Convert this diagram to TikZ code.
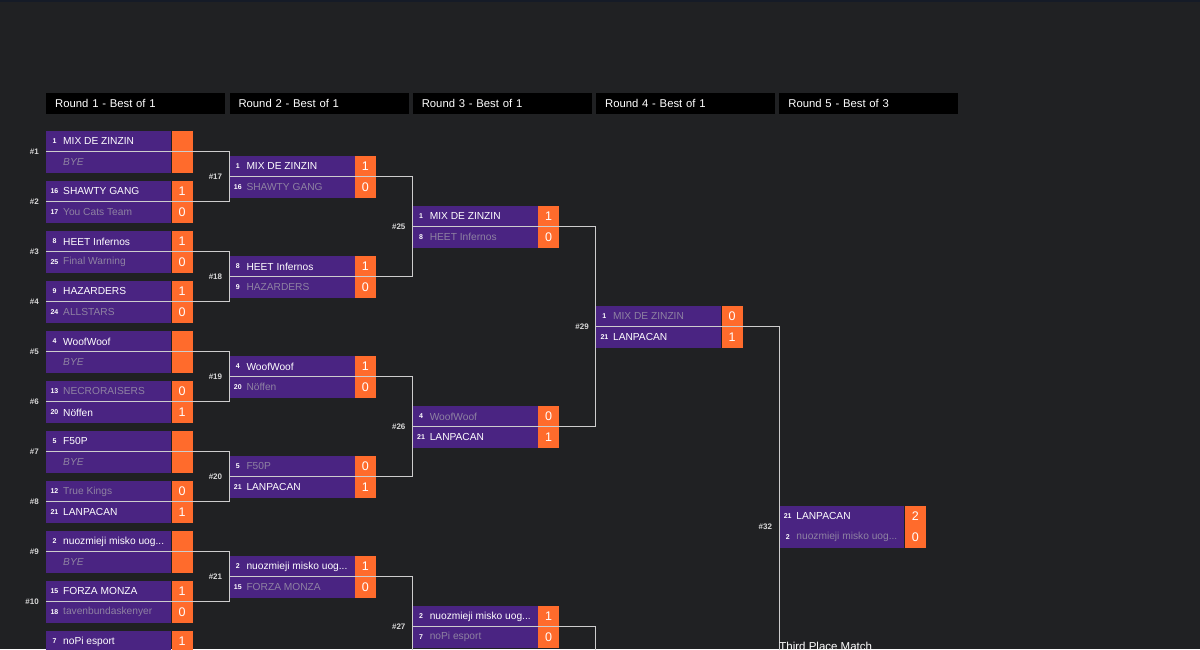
\documentclass[tikz,border=0pt]{standalone}
\usepackage{fontspec}
\setmainfont{Liberation Sans}
\usepackage{tikz}
\usetikzlibrary{positioning}
\definecolor{bgdark}{RGB}{32,33,35}
\definecolor{topbar}{RGB}{21,27,39}
\definecolor{teampurple}{RGB}{74,36,130}
\definecolor{scoreorange}{RGB}{255,107,44}
\definecolor{losegray}{RGB}{142,130,162}
\definecolor{linegray}{RGB}{205,205,205}

\newcommand{\lost}[1]{\textcolor{losegray}{#1}}
\newcommand{\byeslot}{\textcolor{losegray}{\itshape BYE}}

% one team line: name, placement, seed, team, score
\newcommand{\teamrow}[5]{%
  \node[teambox, #2] (#1) {};
  \node[scorebox, right=0pt of #1] (#1s) {#5};
  \node[seednum] (#1n) at ([xshift=8.5pt]#1.west) {#3};
  \node[teamname] (#1t) at ([xshift=17pt]#1.west) {#4};
}
% one match: name, top left, number, top team, bottom team
\newcommand{\bmatch}[9]{%
  \teamrow{#1a}{anchor=north west, at={(#2)}}{#4}{#5}{#6}
  \teamrow{#1b}{below=0pt of #1a}{#7}{#8}{#9}
  \coordinate (#1w) at (#1a.south west);
  \node[matchno] (#1l) at ([xshift=-7pt]#1w) {#3};
}

\begin{document}
\begin{tikzpicture}[x=1pt, y=-1pt,
  teambox/.style={fill=teampurple, minimum width=125pt, minimum height=20.5pt, inner sep=0pt},
  scorebox/.style={fill=scoreorange, minimum width=21pt, minimum height=20.5pt, inner sep=0pt, text=white, font=\fontsize{12.5}{14}\selectfont},
  seednum/.style={inner sep=0pt, text=white, font=\bfseries\fontsize{7}{8}\selectfont},
  teamname/.style={anchor=west, inner sep=0pt, text=white, font=\fontsize{10.2}{12}\selectfont},
  matchno/.style={anchor=east, inner sep=0pt, text=white!85!black, font=\bfseries\fontsize{8}{10}\selectfont},
  roundhead/.style={anchor=north west, fill=black, text=white, minimum height=21pt, inner ysep=0pt, inner xsep=9pt, text width=161pt, align=left, font=\fontsize{11.3}{13}\selectfont},
  link/.style={linegray, line width=1pt}]
  \useasboundingbox (0,0) rectangle (1200,649);
  \clip (0,0) rectangle (1200,649);
  \fill[bgdark] (0,0) rectangle (1200,649);
  \fill[topbar] (0,0) rectangle (1200,2);

  % Round headers
  \node[roundhead] (r1) at (46,93) {Round 1 - Best of 1};
  \node[roundhead] (r2) at (229.3,93) {Round 2 - Best of 1};
  \node[roundhead] (r3) at (412.6,93) {Round 3 - Best of 1};
  \node[roundhead] (r4) at (595.9,93) {Round 4 - Best of 1};
  \node[roundhead] (r5) at (779.2,93) {Round 5 - Best of 3};

  % Round 1
  \bmatch{m1}{46,131}{\#1}{1}{MIX DE ZINZIN}{}{}{\byeslot}{}
  \bmatch{m2}{46,181}{\#2}{16}{SHAWTY GANG}{1}{17}{\lost{You Cats Team}}{0}
  \bmatch{m3}{46,231}{\#3}{8}{HEET Infernos}{1}{25}{\lost{Final Warning}}{0}
  \bmatch{m4}{46,281}{\#4}{9}{HAZARDERS}{1}{24}{\lost{ALLSTARS}}{0}
  \bmatch{m5}{46,331}{\#5}{4}{WoofWoof}{}{}{\byeslot}{}
  \bmatch{m6}{46,381}{\#6}{13}{\lost{NECRORAISERS}}{0}{20}{Nöffen}{1}
  \bmatch{m7}{46,431}{\#7}{5}{F50P}{}{}{\byeslot}{}
  \bmatch{m8}{46,481}{\#8}{12}{\lost{True Kings}}{0}{21}{LANPACAN}{1}
  \bmatch{m9}{46,531}{\#9}{2}{nuozmieji misko uog...}{}{}{\byeslot}{}
  \bmatch{m10}{46,581}{\#10}{15}{FORZA MONZA}{1}{18}{\lost{tavenbundaskenyer}}{0}
  \teamrow{m11a}{anchor=north west, at={(46,631)}}{7}{noPi esport}{1}

  % Round 2
  \bmatch{m17}{229.3,156}{\#17}{1}{MIX DE ZINZIN}{1}{16}{\lost{SHAWTY GANG}}{0}
  \bmatch{m18}{229.3,256}{\#18}{8}{HEET Infernos}{1}{9}{\lost{HAZARDERS}}{0}
  \bmatch{m19}{229.3,356}{\#19}{4}{WoofWoof}{1}{20}{\lost{Nöffen}}{0}
  \bmatch{m20}{229.3,456}{\#20}{5}{\lost{F50P}}{0}{21}{LANPACAN}{1}
  \bmatch{m21}{229.3,556}{\#21}{2}{nuozmieji misko uog...}{1}{15}{\lost{FORZA MONZA}}{0}

  % Round 3
  \bmatch{m25}{412.6,206}{\#25}{1}{MIX DE ZINZIN}{1}{8}{\lost{HEET Infernos}}{0}
  \bmatch{m26}{412.6,406}{\#26}{4}{\lost{WoofWoof}}{0}{21}{LANPACAN}{1}
  \bmatch{m27}{412.6,606}{\#27}{2}{nuozmieji misko uog...}{1}{7}{\lost{noPi esport}}{0}

  % Round 4 and 5
  \bmatch{m29}{595.9,306}{\#29}{1}{\lost{MIX DE ZINZIN}}{0}{21}{LANPACAN}{1}
  \bmatch{m32}{779.2,506}{\#32}{21}{LANPACAN}{2}{2}{\lost{nuozmieji misko uog...}}{0}

  % matches below the visible part
  \coordinate (m22w) at (229.3,676.5);
  \coordinate (m28w) at (412.6,1026.5);
  \coordinate (m30w) at (595.9,726.5);

  % Bracket lines
  \draw[link] (m1w) -- (m1w -| m17w) |- (m2w);
  \draw[link] (m3w) -- (m3w -| m18w) |- (m4w);
  \draw[link] (m5w) -- (m5w -| m19w) |- (m6w);
  \draw[link] (m7w) -- (m7w -| m20w) |- (m8w);
  \draw[link] (m9w) -- (m9w -| m21w) |- (m10w);
  \draw[link] (m17w) -- (m17w -| m25w) |- (m18w);
  \draw[link] (m19w) -- (m19w -| m26w) |- (m20w);
  \draw[link] (m21w) -- (m21w -| m27w) |- (m22w);
  \draw[link] (m25w) -- (m25w -| m29w) |- (m26w);
  \draw[link] (m27w) -- (m27w -| m29w) |- (m28w);
  \draw[link] (m29w) -- (m29w -| m32w) |- (m30w);

  \node[anchor=base west, inner sep=0pt, text=white, font=\fontsize{11.5}{14}\selectfont] (third) at (779.2,650) {Third Place Match};
\end{tikzpicture}
\end{document}
